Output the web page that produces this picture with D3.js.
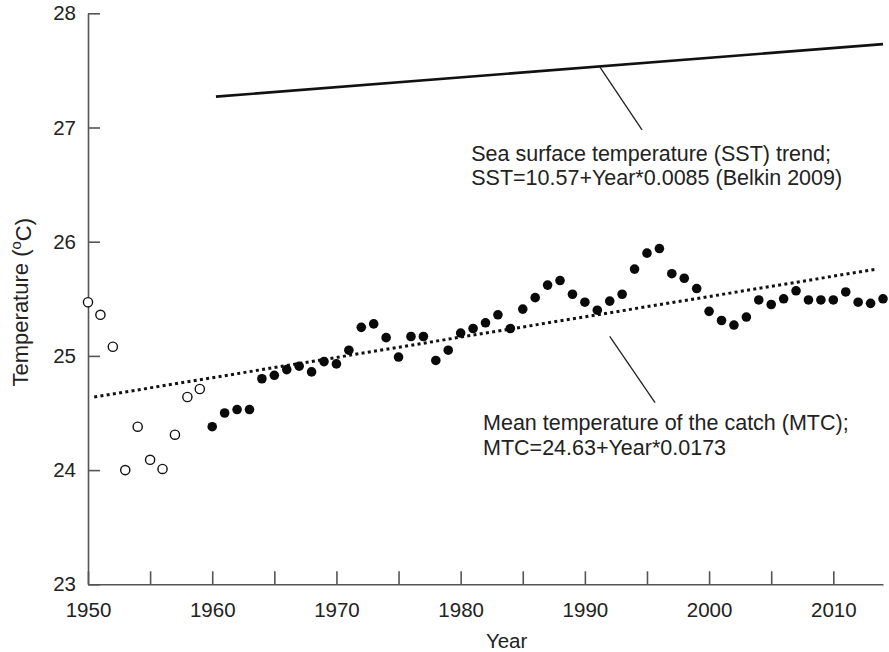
<!DOCTYPE html>
<html>
<head>
<meta charset="utf-8">
<script src="https://cdn.jsdelivr.net/npm/d3@7"></script>
<style>
  body { margin: 0; background: #fff; }
  svg text { font-family: "Liberation Sans", Arial, sans-serif; fill: #222; }
</style>
</head>
<body>
<div id="chart"></div>
<script>
// Mean temperature of the catch vs year, with SST and MTC trend lines

const openYears = [1950, 1951, 1952, 1953, 1954, 1955, 1956, 1957, 1958, 1959];
const openValues = [25.47, 25.36, 25.08, 24.00, 24.38, 24.09, 24.01, 24.31, 24.64, 24.71];

const filledYears = d3.range(1960, 2015);
const filledValues = [
  24.38, 24.50, 24.53, 24.53, 24.80, 24.83, 24.88, 24.91, 24.86, 24.95,
  24.93, 25.05, 25.25, 25.28, 25.16, 24.99, 25.17, 25.17, 24.96, 25.05,
  25.20, 25.24, 25.29, 25.36, 25.24, 25.41, 25.51, 25.62, 25.66, 25.54,
  25.47, 25.40, 25.48, 25.54, 25.76, 25.90, 25.94, 25.72, 25.68, 25.59,
  25.39, 25.31, 25.27, 25.34, 25.49, 25.45, 25.50, 25.57, 25.49, 25.49,
  25.49, 25.56, 25.47, 25.46, 25.50
];

const sstYears = [1960.3, 2014];
const sstValues = [27.27, 27.73];
const mtcTrendYears = [1950.5, 2013.5];
const mtcTrendValues = [24.64, 25.76];

const xTicks = d3.range(1950, 2011, 5);
const yTicks = [23, 24, 25, 26, 27, 28];

const sstLabel = ['Sea surface temperature (SST) trend;', 'SST=10.57+Year*0.0085 (Belkin 2009)'];
const mtcLabel = ['Mean temperature of the catch (MTC);', 'MTC=24.63+Year*0.0173'];
// annotation anchors in data units: [leader start, leader end, text]
const sstNote = { from: [1991.2, 27.53], to: [1994.6, 26.98], text: [1980.85, 26.71] };
const mtcNote = { from: [1992.0, 25.17], to: [1995.65, 24.59], text: [1981.8, 24.35] };

const width = 889, height = 652;
const margin = { top: 13.3, right: 6, bottom: 67.7, left: 88 };

const svg = d3.select('#chart').append('svg')
  .attr('width', width)
  .attr('height', height);

const x = d3.scaleLinear().domain([1950, 2014]).range([margin.left, width - margin.right]);
const y = d3.scaleLinear().domain([23, 28]).range([height - margin.bottom, margin.top]);

// Axes
const xAxis = svg.append('g')
  .attr('transform', `translate(0,${height - margin.bottom})`)
  .call(d3.axisBottom(x).tickValues(xTicks)
    .tickSizeInner(-13).tickSizeOuter(0).tickPadding(18)
    .tickFormat(d => (d % 10 === 0 ? d : '')));

const yAxis = svg.append('g')
  .attr('transform', `translate(${margin.left},0)`)
  .call(d3.axisLeft(y).tickValues(yTicks)
    .tickSizeInner(-12).tickSizeOuter(0).tickPadding(12)
    .tickFormat(d3.format('d')));

[xAxis, yAxis].forEach(a => {
  a.select('.domain').attr('stroke', '#555').attr('stroke-width', 1.6);
  a.selectAll('.tick line').attr('stroke', '#555').attr('stroke-width', 1.6);
  a.selectAll('.tick text').attr('font-size', '20.5px').attr('fill', '#222');
});

// Axis titles
svg.append('text')
  .attr('x', x(1983.7))
  .attr('y', 648)
  .attr('text-anchor', 'middle')
  .attr('font-size', '20.5px')
  .text('Year');

const yTitle = svg.append('text')
  .attr('transform', `translate(28,${y(25.47)}) rotate(-90)`)
  .attr('text-anchor', 'middle')
  .attr('font-size', '22px');
yTitle.append('tspan').text('Temperature (');
yTitle.append('tspan').attr('dy', '-0.45em').attr('font-size', '15px').text('o');
yTitle.append('tspan').attr('dy', '0.45em').text('C)');

// Trend lines
const line = d3.line().x(d => x(d[0])).y(d => y(d[1]));

svg.append('path')
  .datum(sstYears.map((d, i) => [d, sstValues[i]]))
  .attr('d', line)
  .attr('fill', 'none')
  .attr('stroke', '#111')
  .attr('stroke-width', 2.6);

svg.append('path')
  .datum(mtcTrendYears.map((d, i) => [d, mtcTrendValues[i]]))
  .attr('d', line)
  .attr('fill', 'none')
  .attr('stroke', '#111')
  .attr('stroke-width', 3)
  .attr('stroke-dasharray', '3,3.3');

// Points
svg.append('g').selectAll('circle')
  .data(openYears.map((d, i) => ({ year: d, value: openValues[i] })))
  .enter()
  .append('circle')
  .attr('cx', d => x(d.year))
  .attr('cy', d => y(d.value))
  .attr('r', 4.6)
  .attr('fill', '#fff')
  .attr('stroke', '#111')
  .attr('stroke-width', 1.4);

svg.append('g').selectAll('circle')
  .data(filledYears.map((d, i) => ({ year: d, value: filledValues[i] })))
  .enter()
  .append('circle')
  .attr('cx', d => x(d.year))
  .attr('cy', d => y(d.value))
  .attr('r', 4.8)
  .attr('fill', '#0a0a0a');

// Annotations
function annotate(note, lines) {
  svg.append('line')
    .attr('x1', x(note.from[0])).attr('y1', y(note.from[1]))
    .attr('x2', x(note.to[0])).attr('y2', y(note.to[1]))
    .attr('stroke', '#222')
    .attr('stroke-width', 1.3);
  const t = svg.append('text')
    .attr('x', x(note.text[0]))
    .attr('y', y(note.text[1]))
    .attr('font-size', '21.5px');
  lines.forEach((l, i) => {
    t.append('tspan')
      .attr('x', x(note.text[0]))
      .attr('dy', i === 0 ? 0 : '1.15em')
      .text(l);
  });
}
annotate(sstNote, sstLabel);
annotate(mtcNote, mtcLabel);
</script>
</body>
</html>
